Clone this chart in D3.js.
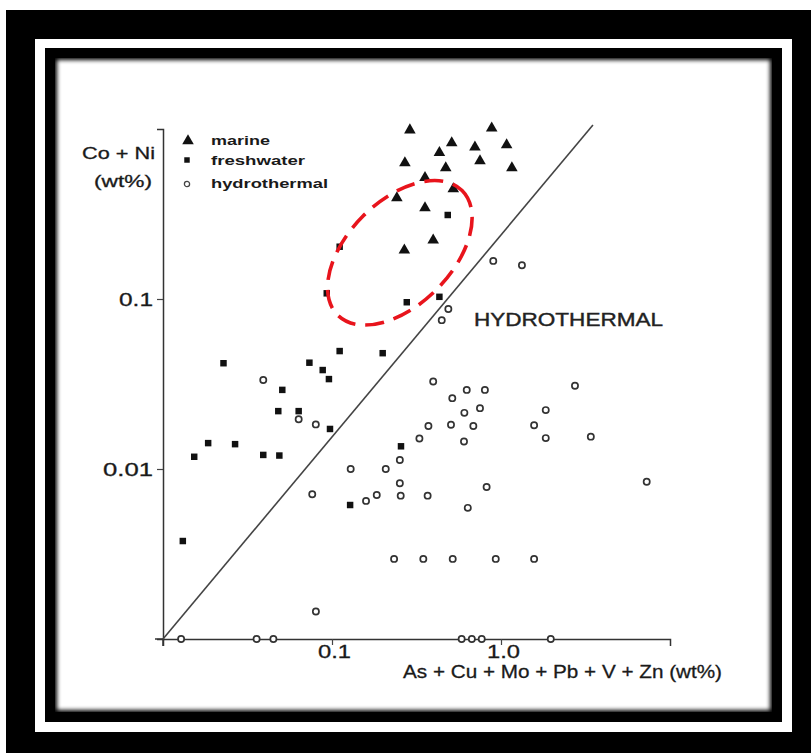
<!DOCTYPE html>
<html>
<head>
<meta charset="utf-8">
<script src="https://cdn.jsdelivr.net/npm/d3@7"></script>
<style>
  body { margin: 0; background: #fff; }
  svg { display: block; }
  text { font-family: "Liberation Sans", Arial, sans-serif; fill: #1a1a1a; }
</style>
</head>
<body>
<div class="chart"></div>
<script>
// values: [As+Cu+Mo+Pb+V+Zn wt%, Co+Ni wt%]
const marine = [
  [0.289, 0.986], [0.881, 1.01], [0.511, 0.828], [0.701, 0.783], [1.08, 0.805],
  [0.432, 0.726], [0.751, 0.649], [0.270, 0.631], [0.471, 0.590], [1.16, 0.590],
  [0.355, 0.518], [0.522, 0.444], [0.242, 0.393], [0.355, 0.343], [0.397, 0.222],
  [0.268, 0.194]
];
const freshwater = [
  [0.111, 0.203], [0.0931, 0.108], [0.484, 0.312], [0.277, 0.0957], [0.432, 0.103],
  [0.0228, 0.0419], [0.111, 0.0494], [0.1995, 0.048], [0.0735, 0.0422], [0.0881, 0.0382],
  [0.0959, 0.0338], [0.0508, 0.0292], [0.0481, 0.0219], [0.0635, 0.0219], [0.0973, 0.0172],
  [0.0185, 0.0142], [0.0267, 0.0140], [0.0153, 0.0118], [0.0392, 0.0121], [0.0488, 0.0120],
  [0.128, 0.00614], [0.256, 0.0136], [0.0131, 0.00377]
];
const hydrothermal = [
  [0.900, 0.1675], [1.33, 0.158], [0.488, 0.0873], [0.446, 0.0751], [0.0392, 0.0334],
  [0.0635, 0.0196], [0.0802, 0.0183], [0.129, 0.0100], [0.208, 0.0100], [0.0764, 0.0071],
  [0.159, 0.00649], [0.184, 0.00703], [0.397, 0.0327], [0.627, 0.0292], [0.803, 0.0292],
  [0.515, 0.0261], [0.751, 0.0228], [0.607, 0.0214], [0.372, 0.0179], [0.506, 0.0182],
  [0.686, 0.0179], [0.329, 0.0151], [0.604, 0.0145], [2.74, 0.0309], [1.84, 0.0222],
  [1.57, 0.0181], [1.84, 0.0152], [3.40, 0.0155], [0.252, 0.0113], [0.252, 0.00824],
  [0.255, 0.00697], [0.368, 0.00697], [0.822, 0.00783], [0.636, 0.00591], [7.28, 0.00841],
  [0.233, 0.00296], [0.347, 0.00296], [0.518, 0.00296], [0.931, 0.00296], [1.57, 0.00296],
  [0.0803, 0.00145]
];
// hydrothermal samples sitting on the x axis (Co+Ni at the bottom of the scale)
const hydroOnAxis = [0.0128, 0.0358, 0.045, 0.585, 0.672, 0.769, 1.97];
const axisFloor = 0.001;

const xTicks = [0.1, 1];
const xTickLabels = ["0.1", "1.0"];
const yTicks = [0.01, 0.1];
const yTickLabels = ["0.01", "0.1"];

// dividing line and marked field (data space)
const dividerEnds = [[0.01, 0.001], [3.5, 1.055]];
const fieldCentre = [0.252, 0.187];

const legendItems = ["marine", "freshwater", "hydrothermal"];

var width = 811, height = 753;

var svg = d3.select(".chart").append("svg")
  .attr("width", width)
  .attr("height", height);

var defs = svg.append("defs");
defs.append("filter").attr("id", "soft")
  .attr("x", "-5%").attr("y", "-5%").attr("width", "110%").attr("height", "110%")
  .append("feGaussianBlur").attr("stdDeviation", 2);
defs.append("clipPath").attr("id", "innerClip")
  .append("rect").attr("x", 55).attr("y", 58).attr("width", 717).attr("height", 654);

// picture frame
svg.append("rect").attr("x", 6).attr("y", 10).attr("width", 805).attr("height", 743).attr("fill", "#000");
svg.append("rect").attr("x", 35).attr("y", 39).attr("width", 757).attr("height", 693).attr("fill", "#fff");
svg.append("rect").attr("x", 45).attr("y", 48).attr("width", 737).attr("height", 674).attr("fill", "#000");
svg.append("g").attr("clip-path", "url(#innerClip)")
  .append("rect").attr("x", 57).attr("y", 60).attr("width", 713).attr("height", 650)
  .attr("fill", "#fff").attr("filter", "url(#soft)");

// scales
var x = d3.scaleLog().domain([0.01, 10]).range([163, 670]);
var y = d3.scaleLog().domain([0.001, 1]).range([639, 129]);

// axes
var xAxis = svg.append("g")
  .attr("transform", "translate(0," + y(axisFloor) + ")")
  .call(d3.axisBottom(x).tickValues(xTicks).tickSize(6).tickSizeOuter(7)
    .tickFormat((d, i) => xTickLabels[i]));
xAxis.select(".domain").attr("stroke", "#333").attr("stroke-width", 1.5);
xAxis.selectAll(".tick line").attr("stroke", "#444").attr("stroke-width", 1.2);
xAxis.selectAll(".tick text")
  .attr("y", 6)
  .attr("dx", 2)
  .attr("font-size", 19)
  .attr("textLength", 33)
  .attr("lengthAdjust", "spacingAndGlyphs")
  .style("fill", "#1a1a1a")
  .style("stroke", "#1a1a1a").style("stroke-width", 0.3);

// stub of axis left of the origin
svg.append("line")
  .attr("x1", x(0.01) - 8).attr("x2", x(0.01))
  .attr("y1", y(axisFloor)).attr("y2", y(axisFloor))
  .attr("stroke", "#333").attr("stroke-width", 1.5);

var yAxis = svg.append("g")
  .attr("transform", "translate(" + x(0.01) + ",0)")
  .call(d3.axisLeft(y).tickValues(yTicks).tickSize(6).tickSizeOuter(6)
    .tickFormat((d, i) => yTickLabels[i]));
yAxis.select(".domain").attr("stroke", "#333").attr("stroke-width", 1.5);
yAxis.selectAll(".tick line").attr("stroke", "#444").attr("stroke-width", 1.2);
yAxis.selectAll(".tick text")
  .attr("x", -10)
  .attr("dy", "0.36em")
  .attr("font-size", 19)
  .attr("textLength", (d, i) => i === 0 ? 50 : 34)
  .attr("lengthAdjust", "spacingAndGlyphs")
  .style("fill", "#1a1a1a")
  .style("stroke", "#1a1a1a").style("stroke-width", 0.3);

// y stub below origin
svg.append("line")
  .attr("x1", x(0.01)).attr("x2", x(0.01))
  .attr("y1", y(axisFloor)).attr("y2", y(axisFloor) + 7)
  .attr("stroke", "#333").attr("stroke-width", 1.5);

// axis titles
svg.append("text").attr("x", 155).attr("y", 159)
  .attr("text-anchor", "end").attr("font-size", 17)
  .attr("textLength", 73).attr("lengthAdjust", "spacingAndGlyphs")
  .style("stroke", "#1a1a1a").style("stroke-width", 0.3)
  .text("Co + Ni");
svg.append("text").attr("x", 152).attr("y", 187)
  .attr("text-anchor", "end").attr("font-size", 17)
  .attr("textLength", 58).attr("lengthAdjust", "spacingAndGlyphs")
  .style("stroke", "#1a1a1a").style("stroke-width", 0.3)
  .text("(wt%)");

svg.append("text").attr("x", 403).attr("y", 678)
  .attr("font-size", 19)
  .attr("textLength", 319).attr("lengthAdjust", "spacingAndGlyphs")
  .style("stroke", "#1a1a1a").style("stroke-width", 0.3)
  .text("As + Cu + Mo + Pb + V + Zn (wt%)");

// dividing line
svg.append("line")
  .attr("x1", x(dividerEnds[0][0])).attr("y1", y(dividerEnds[0][1]))
  .attr("x2", x(dividerEnds[1][0])).attr("y2", y(dividerEnds[1][1]))
  .attr("stroke", "#444").attr("stroke-width", 1.6);

svg.append("text").attr("x", 474).attr("y", 326)
  .attr("font-size", 18)
  .attr("textLength", 189).attr("lengthAdjust", "spacingAndGlyphs")
  .style("fill", "#222")
  .style("stroke", "#222").style("stroke-width", 0.4)
  .text("HYDROTHERMAL");

// markers
var tri = d3.symbol().type(d3.symbolTriangle).size(58);
var sq = d3.symbol().type(d3.symbolSquare).size(42);

svg.append("g").selectAll("path")
  .data(marine).enter().append("path")
  .attr("d", tri)
  .attr("transform", d => "translate(" + x(d[0]) + "," + y(d[1]) + ")")
  .attr("fill", "#111");

svg.append("g").selectAll("path")
  .data(freshwater).enter().append("path")
  .attr("d", sq)
  .attr("transform", d => "translate(" + x(d[0]) + "," + y(d[1]) + ")")
  .attr("fill", "#111");

svg.append("g").selectAll("circle")
  .data(hydrothermal).enter().append("circle")
  .attr("cx", d => x(d[0]))
  .attr("cy", d => y(d[1]))
  .attr("r", 3.1)
  .attr("fill", "#fff")
  .attr("stroke", "#333")
  .attr("stroke-width", 1.7);

svg.append("g").selectAll("circle")
  .data(hydroOnAxis).enter().append("circle")
  .attr("cx", d => x(d))
  .attr("cy", y(axisFloor))
  .attr("r", 3.1)
  .attr("fill", "#fff")
  .attr("stroke", "#333")
  .attr("stroke-width", 1.7);

// legend
var legend = svg.append("g").attr("transform", "translate(187,0)");
legend.append("path").attr("d", tri).attr("transform", "translate(1,141)").attr("fill", "#111");
legend.append("path").attr("d", d3.symbol().type(d3.symbolSquare).size(30))
  .attr("transform", "translate(0,160)").attr("fill", "#111");
legend.append("circle").attr("cx", 0).attr("cy", 184).attr("r", 2.6)
  .attr("fill", "#fff").attr("stroke", "#444").attr("stroke-width", 1.3);
var legendY = [145, 165, 188];
var legendW = [59, 94, 117];
legend.selectAll("text.lg")
  .data(legendItems).enter().append("text")
  .attr("class", "lg")
  .attr("x", 24)
  .attr("y", (d, i) => legendY[i])
  .attr("font-size", 13)
  .attr("font-weight", "bold")
  .attr("textLength", (d, i) => legendW[i])
  .attr("lengthAdjust", "spacingAndGlyphs")
  .text(d => d);

// red dashed field
svg.append("ellipse")
  .attr("transform", "translate(" + x(fieldCentre[0]) + "," + y(fieldCentre[1]) + ") rotate(-45)")
  .attr("rx", 88).attr("ry", 52)
  .attr("fill", "none")
  .attr("stroke", "#e8141c")
  .attr("stroke-width", 3.6)
  .attr("stroke-dasharray", "19,10");
</script>
</body>
</html>
